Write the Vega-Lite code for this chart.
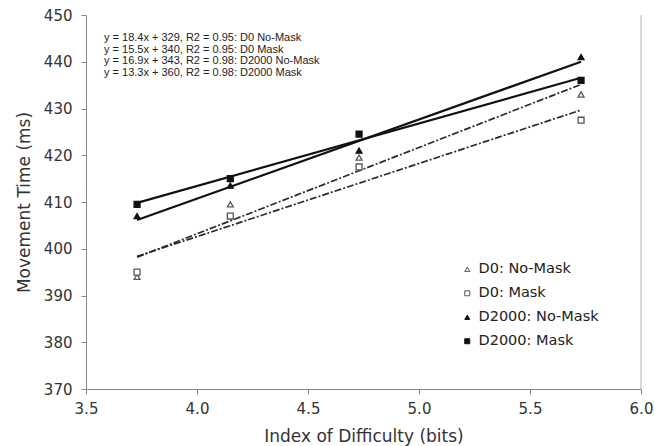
{
  "$schema": "https://vega.github.io/schema/vega-lite/v6.json",
  "autosize": {"type": "none"},
  "width": 555,
  "height": 374,
  "padding": {"left": 86, "top": 15, "right": 14, "bottom": 57},
  "background": "white",
  "config": {
    "view": {"stroke": null},
    "font": "DejaVu Sans",
    "axis": {
      "grid": false,
      "domainColor": "#888888",
      "tickColor": "#888888",
      "tickSize": 5,
      "labelFont": "DejaVu Sans",
      "labelFontSize": 15,
      "labelColor": "#333333",
      "titleFont": "DejaVu Sans",
      "titleFontSize": 17,
      "titleFontWeight": "normal",
      "titleColor": "#333333"
    }
  },
  "datasets": {
    "pts": [
      {"id": 3.73, "mt": 394.0, "series": "D0: No-Mask"},
      {"id": 4.15, "mt": 409.5, "series": "D0: No-Mask"},
      {"id": 4.73, "mt": 419.5, "series": "D0: No-Mask"},
      {"id": 5.73, "mt": 433.0, "series": "D0: No-Mask"},
      {"id": 3.73, "mt": 395.0, "series": "D0: Mask"},
      {"id": 4.15, "mt": 407.0, "series": "D0: Mask"},
      {"id": 4.73, "mt": 417.5, "series": "D0: Mask"},
      {"id": 5.73, "mt": 427.5, "series": "D0: Mask"},
      {"id": 3.73, "mt": 407.0, "series": "D2000: No-Mask"},
      {"id": 4.15, "mt": 413.5, "series": "D2000: No-Mask"},
      {"id": 4.73, "mt": 421.0, "series": "D2000: No-Mask"},
      {"id": 5.73, "mt": 441.0, "series": "D2000: No-Mask"},
      {"id": 3.73, "mt": 409.5, "series": "D2000: Mask"},
      {"id": 4.15, "mt": 415.0, "series": "D2000: Mask"},
      {"id": 4.73, "mt": 424.5, "series": "D2000: Mask"},
      {"id": 5.73, "mt": 436.0, "series": "D2000: Mask"}
    ],
    "eq": [
      {"label": "equations"}
    ]
  },
  "layer": [
    {
      "data": {"name": "pts"},
      "transform": [
        {"filter": "indexof(datum.series, 'D0') === 0 && indexof(datum.series, 'D2000') < 0"},
        {"regression": "mt", "on": "id", "groupby": ["series"], "extent": [3.73, 5.73]}
      ],
      "mark": {"type": "line", "color": "#2a2a2a", "strokeWidth": 1.7, "strokeDash": [7, 2, 2, 2]},
      "encoding": {
        "x": {"field": "id", "type": "quantitative"},
        "y": {"field": "mt", "type": "quantitative"},
        "detail": {"field": "series"}
      }
    },
    {
      "data": {"name": "pts"},
      "transform": [
        {"filter": "indexof(datum.series, 'D2000') === 0"},
        {"regression": "mt", "on": "id", "groupby": ["series"], "extent": [3.73, 5.73]}
      ],
      "mark": {"type": "line", "color": "#111111", "strokeWidth": 2.2},
      "encoding": {
        "x": {"field": "id", "type": "quantitative"},
        "y": {"field": "mt", "type": "quantitative"},
        "detail": {"field": "series"}
      }
    },
    {
      "data": {"name": "pts"},
      "mark": {"type": "point", "size": 35, "strokeWidth": 1.3, "filled": false, "opacity": 1},
      "encoding": {
        "x": {
          "field": "id", "type": "quantitative",
          "title": "Index of Difficulty (bits)",
          "scale": {"domain": [3.5, 6.0], "nice": false, "zero": false},
          "axis": {"values": [3.5, 4.0, 4.5, 5.0, 5.5, 6.0], "format": ".1f", "labelPadding": 7, "titlePadding": 12, "labelFlush": false}
        },
        "y": {
          "field": "mt", "type": "quantitative",
          "title": "Movement Time (ms)",
          "scale": {"domain": [370, 450], "nice": false, "zero": false},
          "axis": {"values": [370, 380, 390, 400, 410, 420, 430, 440, 450], "labelPadding": 9, "titlePadding": 10}
        },
        "shape": {
          "field": "series", "type": "nominal", "title": null,
          "scale": {"domain": ["D0: No-Mask", "D0: Mask", "D2000: No-Mask", "D2000: Mask"], "range": ["triangle-up", "square", "triangle-up", "square"]}
        },
        "fill": {
          "field": "series", "type": "nominal", "title": null,
          "scale": {"domain": ["D0: No-Mask", "D0: Mask", "D2000: No-Mask", "D2000: Mask"], "range": ["white", "white", "#111111", "#111111"]}
        },
        "stroke": {
          "field": "series", "type": "nominal", "title": null,
          "scale": {"domain": ["D0: No-Mask", "D0: Mask", "D2000: No-Mask", "D2000: Mask"], "range": ["#555555", "#555555", "#111111", "#111111"]},
          "legend": {
            "orient": "none",
            "legendX": 374,
            "legendY": 247,
            "labelFont": "DejaVu Sans",
            "labelFontSize": 14.5,
            "labelColor": "#222222",
            "symbolSize": 25,
            "symbolStrokeWidth": 1,
            "rowPadding": 9,
            "labelOffset": 4
          }
        }
      }
    },
    {
      "data": {"name": "eq"},
      "mark": {
        "type": "text",
        "align": "left",
        "baseline": "top",
        "font": "Liberation Sans",
        "fontSize": 11,
        "lineHeight": 11.6,
        "color": "#222222",
        "text": [
          "y = 18.4x + 329, R2 = 0.95: D0 No-Mask",
          "y = 15.5x + 340, R2 = 0.95: D0 Mask",
          "y = 16.9x + 343, R2 = 0.98: D2000 No-Mask",
          "y = 13.3x + 360, R2 = 0.98: D2000 Mask"
        ]
      },
      "encoding": {
        "x": {"datum": 3.581, "type": "quantitative"},
        "y": {"datum": 446.3, "type": "quantitative"}
      }
    },
    {
      "data": {"name": "eq"},
      "mark": {"type": "rule", "color": "#cccccc", "strokeWidth": 1.5},
      "encoding": {
        "x": {"datum": 6.0, "type": "quantitative"}
      }
    }
  ]
}
